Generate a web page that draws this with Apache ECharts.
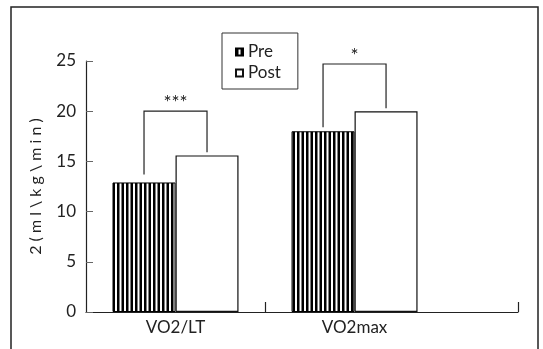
<!DOCTYPE html>
<html>
<head>
<meta charset="utf-8">
<script src="https://cdn.jsdelivr.net/npm/echarts@6/dist/echarts.min.js"></script>
<style>
  html, body { margin: 0; padding: 0; background: #fff; }
  #chart { width: 543px; height: 349px; }
</style>
</head>
<body>
<div id="chart"></div>
<script>
// ---- data ----
var categories = ['VO2/LT', 'VO2max'];
var seriesNames = ['Pre', 'Post'];
var preValues = [12.9, 18.0];
var postValues = [15.6, 20.0];
var yTicks = [0, 5, 10, 15, 20, 25];
var sigLabels = ['***', '*'];
var bracketTop = [20.0, 24.7];
var bracketLeftBottom = [13.7, 18.4];
var bracketRightBottom = [15.9, 20.3];
var yAxisTitle = '2 ( m l \\ k g \\ m i n )';

// ---- styles ----
var FONT = 'Lato, "Open Sans", sans-serif';
var BAR_W = 63;

function stripePattern() {
  var c = document.createElement('canvas');
  c.width = 9; c.height = 10;
  var ctx = c.getContext('2d');
  ctx.fillStyle = '#ffffff';
  ctx.fillRect(0, 0, 9, 10);
  ctx.fillStyle = '#000000';
  ctx.fillRect(0, 0, 2.5, 10);
  ctx.fillRect(4.5, 0, 2.5, 10);
  return { image: c, repeat: 'repeat' };
}

var chart = echarts.init(document.getElementById('chart'), null, { renderer: 'canvas' });

var bracketData = categories.map(function (c, i) {
  return [i + 0.5, bracketTop[i], bracketLeftBottom[i], bracketRightBottom[i], i];
});

var option = {
  backgroundColor: '#ffffff',
  animation: false,
  textStyle: { fontFamily: FONT },
  graphic: [{
    type: 'rect',
    shape: { x: 11, y: 7, width: 527, height: 400 },
    style: { fill: 'none', stroke: '#222', lineWidth: 1.5 },
    silent: true
  }],
  legend: {
    data: seriesNames,
    orient: 'vertical',
    left: 222,
    top: 33,
    padding: [9, 17, 6, 13],
    itemWidth: 7,
    itemHeight: 7,
    itemGap: 1,
    icon: 'rect',
    borderColor: '#333',
    borderWidth: 1,
    textStyle: { fontSize: 17, lineHeight: 20, color: '#222', fontFamily: FONT }
  },
  grid: { left: 86, right: 25, top: 61, bottom: 37 },
  xAxis: {
    type: 'value',
    min: 0,
    max: 2.413,
    splitLine: { show: false },
    axisLine: { show: true, lineStyle: { color: '#222', width: 1.2 } },
    axisTick: {
      show: true, inside: true, length: 10,
      customValues: [1, 2.413],
      lineStyle: { color: '#222', width: 1.2 }
    },
    axisLabel: {
      customValues: [0.5, 1.5],
      formatter: function (v) { return categories[Math.round(v - 0.5)] || ''; },
      fontSize: 17, color: '#222', margin: 7, fontFamily: FONT
    }
  },
  yAxis: {
    type: 'value',
    min: 0,
    max: 25,
    interval: 5,
    name: yAxisTitle,
    nameLocation: 'middle',
    nameGap: 42,
    nameTextStyle: { fontSize: 16, color: '#222', fontFamily: FONT },
    splitLine: { show: false },
    axisLine: { show: true, lineStyle: { color: '#222', width: 1.2 } },
    axisTick: { show: true, inside: true, length: 7, lineStyle: { color: '#666', width: 1 } },
    axisLabel: {
      fontSize: 17, color: '#222', margin: 10, fontFamily: FONT,
      formatter: function (v) { return yTicks.indexOf(v) >= 0 ? String(v) : ''; }
    }
  },
  series: [
    {
      name: seriesNames[0],
      type: 'bar',
      barWidth: BAR_W,
      barGap: '0%',
      data: categories.map(function (c, i) { return [i + 0.5, preValues[i]]; }),
      itemStyle: { color: stripePattern(), borderColor: '#000', borderWidth: 1 }
    },
    {
      name: seriesNames[1],
      type: 'bar',
      barWidth: BAR_W,
      barGap: '0%',
      data: categories.map(function (c, i) { return [i + 0.5, postValues[i]]; }),
      itemStyle: { color: '#ffffff', borderColor: '#111', borderWidth: 1.2 }
    },
    {
      type: 'custom',
      silent: true,
      encode: { x: 0, y: 1 },
      data: bracketData,
      renderItem: function (params, api) {
        var x = api.value(0);
        var pTop = api.coord([x, api.value(1)]);
        var pL = api.coord([x, api.value(2)]);
        var pR = api.coord([x, api.value(3)]);
        var cx = pTop[0];
        var lx = cx - BAR_W / 2;
        var rx = cx + BAR_W / 2;
        var idx = api.value(4);
        return {
          type: 'group',
          children: [
            {
              type: 'polyline',
              shape: { points: [[lx, pL[1]], [lx, pTop[1]], [rx, pTop[1]], [rx, pR[1]]] },
              style: { fill: 'none', stroke: '#222', lineWidth: 1.2 }
            },
            {
              type: 'text',
              style: {
                x: cx, y: pTop[1] + 1,
                text: sigLabels[idx],
                fill: '#222',
                font: '19px ' + FONT,
                textAlign: 'center',
                textVerticalAlign: 'bottom'
              }
            }
          ]
        };
      }
    }
  ]
};

chart.setOption(option);
</script>
</body>
</html>
